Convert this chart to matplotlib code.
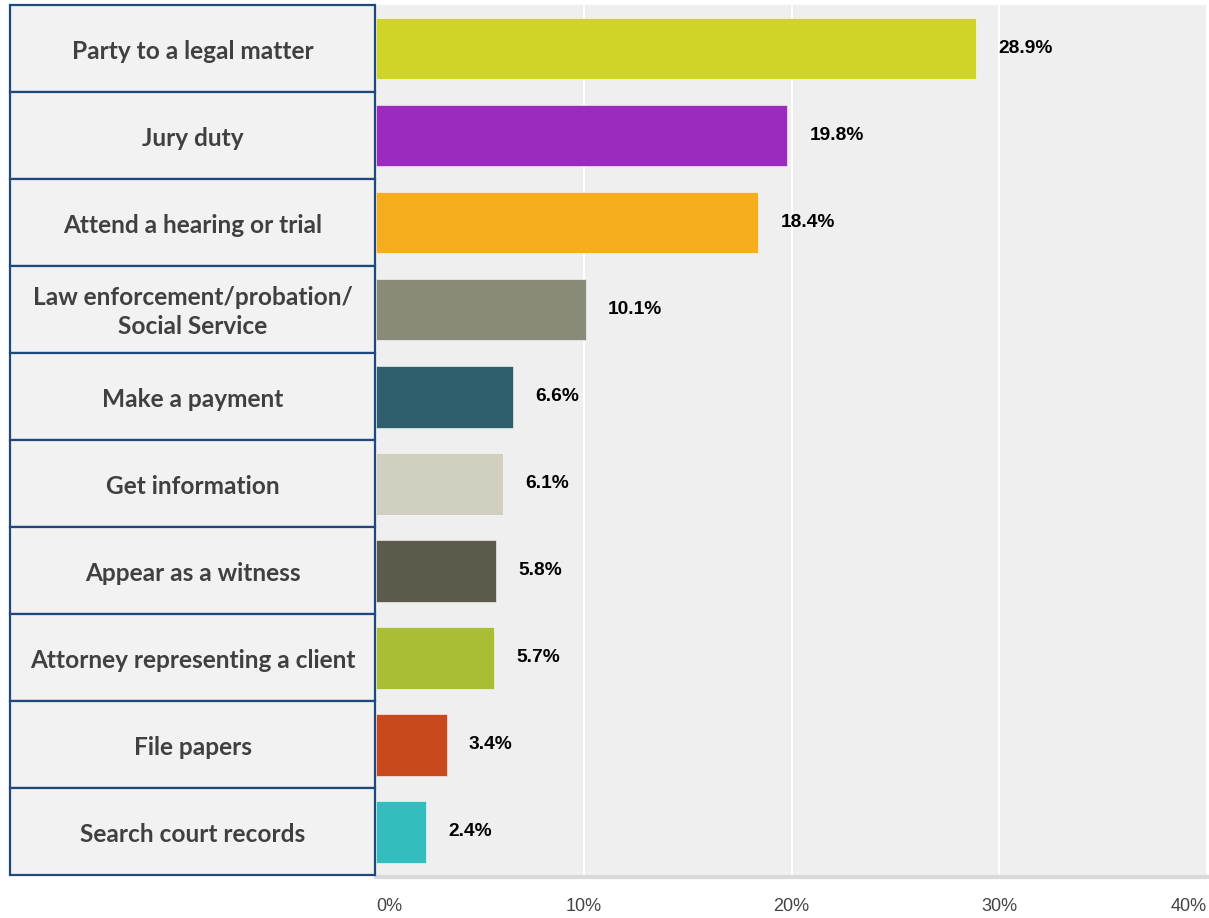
import numpy as np
import matplotlib.pyplot as plt
from matplotlib.patches import Rectangle

categories = [
    "Party to a legal matter",
    "Jury duty",
    "Attend a hearing or trial",
    "Law enforcement/probation/\nSocial Service",
    "Make a payment",
    "Get information",
    "Appear as a witness",
    "Attorney representing a client",
    "File papers",
    "Search court records",
]
values = [28.9, 19.8, 18.4, 10.1, 6.6, 6.1, 5.8, 5.7, 3.4, 2.4]
colors = ["#d0d426", "#9b2bbf", "#f6ae1f", "#8a8a79", "#2f5f6c",
          "#d0cfc0", "#5c5a4a", "#a9be35", "#c9491c", "#34bdbf"]
xticks = [0, 10, 20, 30, 40]
xtick_labels = ["0%", "10%", "20%", "30%", "40%"]

W, H = 1209, 918
fig = plt.figure(figsize=(W / 100, H / 100), dpi=100)
fig.patch.set_facecolor("white")

bottom = (H - 877) / H
height = (877 - 5) / H
ax = fig.add_axes([376 / W, bottom, (1207 - 376) / W, height])
lab_ax = fig.add_axes([10 / W, bottom, (375 - 10) / W, height], sharey=ax)

y = np.arange(len(categories))

# main bars
ax.set_facecolor("#efefef")
ax.barh(y, values, height=0.71, color=colors, edgecolor="white", linewidth=0.4, zorder=3)
for xi in xticks[1:]:
    ax.axvline(xi, color="white", linewidth=1.5, zorder=1)
ax.set_xlim(0, 40)
ax.set_ylim(9.52, -0.5)
for s in ["top", "right", "left"]:
    ax.spines[s].set_visible(False)
ax.spines["bottom"].set_color("#d9d9d9")
ax.spines["bottom"].set_linewidth(3)

for yi, v in zip(y, values):
    ax.annotate(f"{v}%", (v, yi), xytext=(16, 0), textcoords="offset points",
                ha="left", va="center", fontsize=13.8, fontweight="bold",
                family="Liberation Sans", color="black")

ax.set_xticks(xticks)
ax.set_xticklabels(xtick_labels, family="Liberation Sans", fontsize=13, color="#444444")
ax.tick_params(axis="x", length=0, pad=15)
ax.tick_params(axis="y", left=False, labelleft=False)
tl = ax.get_xticklabels()
tl[0].set_ha("left")
tl[-1].set_ha("right")

# label boxes on the left
lab_ax.set_xlim(0, 1)
lab_ax.axis("off")
for yi, cat in zip(y, categories):
    lab_ax.add_patch(Rectangle((0, yi - 0.5), 1, 1, facecolor="#f2f2f2",
                               edgecolor="#1f497d", linewidth=1.6, clip_on=False))
    lab_ax.text(0.5, yi + 0.03, cat, ha="center", va="center", fontsize=17.6,
                fontweight="bold", family="Lato", color="#404040",
                linespacing=1.3)

fig.savefig("out.png", dpi=100)
